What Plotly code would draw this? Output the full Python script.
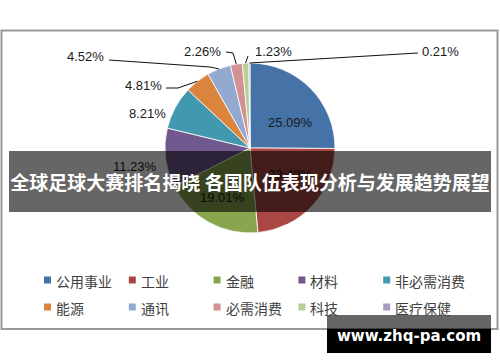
import math
import plotly.graph_objects as go

# ---- data ----
categories = ["公用事业", "工业", "金融", "材料", "非必需消费",
              "能源", "通讯", "必需消费", "科技", "医疗保健"]
shares = [25.09, 23.42, 19.01, 11.23, 8.21, 4.81, 4.52, 2.26, 1.23, 0.21]
colors = ["#4572A7", "#AA4643", "#89A54E", "#71588F", "#4198AF",
          "#DB843D", "#93A9CF", "#D19392", "#B9CD96", "#A99BBD"]
banner_text = "全球足球大赛排名揭晓 各国队伍表现分析与发展趋势展望"
watermark_text = "www.zhq-pa.com"

W, H = 500, 362
def px(x):
    return x / W
def py(y):
    return 1 - y / H

# pie geometry (pixels)
CX, CY, R = 250, 148, 85

fig = go.Figure()
fig.add_trace(go.Pie(
    labels=categories, values=shares, sort=False, direction="clockwise",
    rotation=0, textinfo="none", hoverinfo="label+percent",
    marker=dict(colors=colors, line=dict(color="white", width=0.8)),
    domain=dict(x=[px(CX - R), px(CX + R)], y=[py(CY + R), py(CY - R)]),
    showlegend=False,
))

# label positions (layout, pixel centres)
label_pos = [(290, 122), (290, 174), (222, 197), (135, 166), (147, 113),
             (143, 85), (85, 57), (202, 52), (273, 52), (440, 52)]
# leader-line elbow points for outside labels (index -> points before slice anchor)
leaders = {5: [(166, 88), (178, 88)],
           6: [(109, 60), (210, 67)],
           7: [(226, 52), (233, 53)],
           8: [(248, 56)],
           9: [(418, 53)]}

total = sum(shares)
cum = 0
anchors = []
for v in shares:
    mid = (cum + v / 2) / total * 2 * math.pi
    anchors.append((CX + R * math.sin(mid), CY - R * math.cos(mid)))
    cum += v

shapes = []
# chart border
shapes.append(dict(type="rect", xref="paper", yref="paper",
                   x0=px(1.5), x1=px(497.5), y0=py(329), y1=py(30.5),
                   line=dict(color="#9a9a9a", width=2), layer="below"))
for i, pts in leaders.items():
    allp = pts + [anchors[i]]
    path = "M " + " L ".join(f"{px(x)},{py(y)}" for x, y in allp)
    shapes.append(dict(type="path", xref="paper", yref="paper", path=path,
                       line=dict(color="#111111", width=1), layer="above"))

annotations = []
for i, v in enumerate(shares):
    x, y = label_pos[i]
    annotations.append(dict(xref="paper", yref="paper", x=px(x), y=py(y),
                            text=f"{v:.2f}%", showarrow=False,
                            xanchor="center", yanchor="middle",
                            font=dict(family="Liberation Sans, Arial", size=13, color="#1a1a1a")))

# legend (manual, two rows of five)
for i, name in enumerate(categories):
    col, row = i % 5, i // 5
    sx = 44 + col * 84.8
    sy = 280 + row * 27
    shapes.append(dict(type="rect", xref="paper", yref="paper",
                       x0=px(sx), x1=px(sx + 7), y0=py(sy + 3.5), y1=py(sy - 3.5),
                       fillcolor=colors[i], line=dict(width=0), layer="above"))
    annotations.append(dict(xref="paper", yref="paper", x=px(sx + 10), y=py(sy + 1),
                            text=name, showarrow=False, xanchor="left", yanchor="middle",
                            font=dict(family="Noto Sans CJK SC", size=14, color="#404040")))

# banner overlay
annotations.append(dict(xref="paper", yref="paper", x=px(250), y=py(181.5),
                        text=f"<b>{banner_text}</b>", showarrow=False,
                        xanchor="center", yanchor="middle",
                        width=482, height=61, borderpad=0, borderwidth=0,
                        bgcolor="rgba(0,0,0,0.6)",
                        font=dict(family="Noto Sans CJK SC", size=19, color="white")))

# watermark box
shapes.append(dict(type="rect", xref="paper", yref="paper",
                   x0=px(327), x1=px(491), y0=py(329), y1=py(315),
                   fillcolor="rgba(0,0,0,0.6)", line=dict(width=0), layer="above"))
shapes.append(dict(type="rect", xref="paper", yref="paper",
                   x0=px(327), x1=px(491), y0=py(353), y1=py(329),
                   fillcolor="#000000", line=dict(width=0), layer="above"))
annotations.append(dict(xref="paper", yref="paper", x=px(408.5), y=py(336),
                        text=f"<b>{watermark_text}</b>", showarrow=False,
                        xanchor="center", yanchor="middle",
                        font=dict(family="DejaVu Sans", size=15, color="white")))

fig.update_layout(width=W, height=H, margin=dict(l=0, r=0, t=0, b=0),
                  paper_bgcolor="white", plot_bgcolor="white",
                  shapes=shapes, annotations=annotations, showlegend=False)
fig.write_html("out.html", config={"displayModeBar": False},
               post_script="document.body.style.margin='0';document.body.style.padding='0';")
